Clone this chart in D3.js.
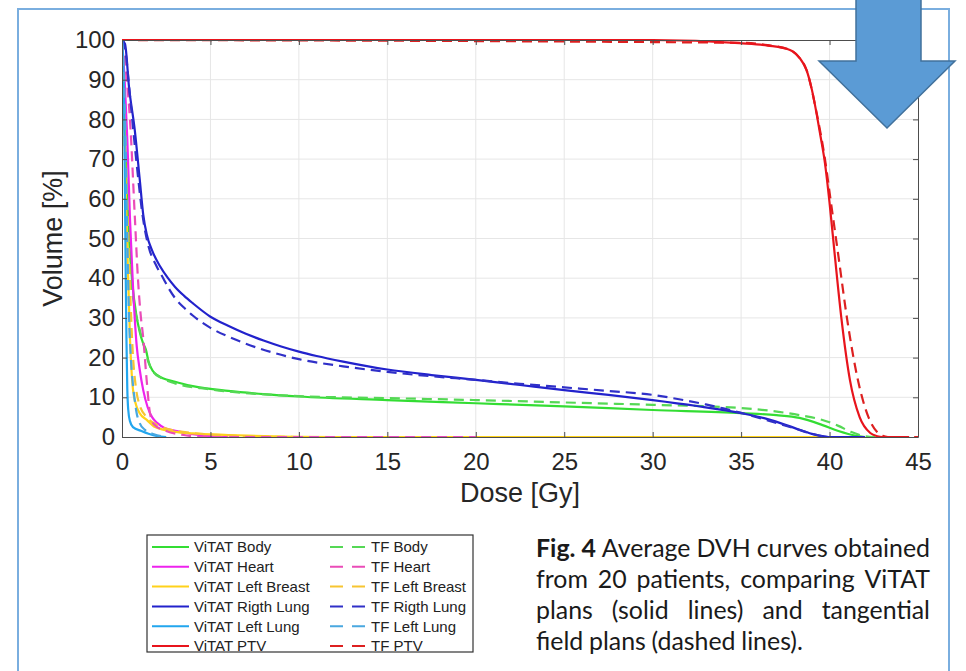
<!DOCTYPE html>
<html><head><meta charset="utf-8">
<script src="https://cdn.jsdelivr.net/npm/d3@7"></script>
<style>body{margin:0;background:#fff}svg{display:block}</style>
</head><body><svg id="c" width="966" height="671"></svg>
<script>
// ---------- DATA (dose [Gy], volume [%]) ----------
const doseTicks = [0,5,10,15,20,25,30,35,40,45];
const volumeTicks = [0,10,20,30,40,50,60,70,80,90,100];

const vitatBody = [[0,100],[0.1,85],[0.25,65],[0.4,50],[0.6,38],[0.8,31],[1.0,26.5],[1.2,23.5],[1.35,22],[1.5,19],[1.75,16.6],[2.0,15.6],[3,13.9],[4,12.8],[6,11.6],[8,10.8],[10,10.2],[15,9.3],[20,8.5],[25,7.7],[30,6.8],[35,6.0],[37,5.5],[38.3,4.8],[39.6,3],[40.5,1.5],[41.5,0.3],[42,0]];
const tfBody = [[0,100],[0.1,82],[0.25,60],[0.45,42],[0.7,33],[1.0,27],[1.3,22],[1.5,18.8],[1.8,16.2],[2.2,14.9],[3,13.5],[5,12],[10,10.3],[15,9.8],[20,9.3],[25,8.7],[30,8.1],[35,7.3],[38.3,5.5],[39.6,4.3],[40.5,2.8],[41.2,1.3],[42,0.2],[42.5,0],[44,0]];
const vitatHeart = [[0,100],[0.15,90],[0.3,75],[0.45,55],[0.62,38],[0.83,23],[1.0,17],[1.2,11.8],[1.45,7.5],[1.7,5],[2.0,3.5],[2.4,2.3],[3.1,1.5],[4,0.7],[5,0.2],[6,0]];
const tfHeart = [[0,100],[0.2,93],[0.45,80],[0.73,55],[0.9,40],[1.05,31],[1.2,25],[1.4,14],[1.58,6],[1.8,3.2],[2.5,1.5],[3.5,0.5],[4.5,0],[20,0]];
const vitatBreast = [[0,100],[0.1,85],[0.2,65],[0.3,48],[0.45,25],[0.62,12],[0.8,8],[1.0,6],[1.4,4.3],[1.87,2.5],[3,1.3],[4,0.9],[6,0.5],[8,0.2],[10,0.05],[12,0],[40,0]];
const tfBreast = [[0,100],[0.15,82],[0.3,58],[0.45,38],[0.6,22],[0.8,12],[1.0,8],[1.4,5],[2,3],[3,1.6],[4,1],[6,0.4],[8,0.1],[10,0]];
const vitatRightLung = [[0,100],[0.17,99],[0.4,88],[0.73,77],[1.0,65],[1.2,56],[1.4,51],[1.7,47],[2.15,43],[2.6,40],[3,37.8],[3.5,35.6],[4,33.7],[5,30.3],[6,28],[7,26],[8,24.3],[9,22.8],[10,21.5],[11,20.4],[12.5,19],[15,17],[17.5,15.6],[20,14.4],[22.5,13.1],[25,11.8],[27.5,10.6],[30,9.3],[32.5,7.8],[35,6],[36.5,4.5],[38,2.3],[39,0.8],[39.8,0.1],[40,0],[42,0]];
const tfRightLung = [[0,100],[0.2,97],[0.45,86],[0.8,70],[1.19,55],[1.5,48],[1.9,43.5],[2.33,40],[2.7,37],[3,35],[3.5,32.6],[4,30.6],[5,27.5],[6,25.3],[7,23.5],[8.5,21.3],[10,19.6],[12.5,17.8],[15,16.4],[17.5,15.3],[20,14.4],[22.5,13.4],[25,12.5],[27.5,11.6],[30,10.6],[31,9.9],[32,9.1],[33,8.2],[34,7.2],[35,6.1],[36.5,4.2],[38,2.2],[39,0.8],[39.8,0]];
const vitatLeftLung = [[0,100],[0.1,90],[0.15,70],[0.2,45],[0.25,25],[0.3,12],[0.35,7],[0.45,4],[0.62,2.5],[1.1,1.5],[1.5,0.8],[2,0.2],[2.5,0]];
const tfLeftLung = [[0,100],[0.1,92],[0.2,75],[0.3,50],[0.4,30],[0.5,20],[0.6,14],[0.7,10],[0.83,6],[1.0,3.5],[1.3,1.8],[1.8,0.7],[2.5,0]];
const vitatPTV = [[0,100],[30,100],[34.9,99.2],[36.5,98.6],[37.76,97.5],[38.3,95.5],[38.7,92.4],[39.0,87.5],[39.27,81.4],[39.5,75.5],[39.74,69],[40.0,59],[40.3,45.6],[40.68,29.5],[41.15,14.4],[41.7,5],[42.3,1],[42.7,0.2],[43,0],[44.5,0]];
const tfPTV = [[0,100],[34.9,99.3],[36.5,98.7],[37.7,97.6],[38.3,95.5],[38.7,92.4],[39.27,81.6],[39.74,70],[40.05,60],[40.5,45.6],[41.0,29.5],[41.6,14.4],[42.2,5],[42.7,1.2],[43,0.3],[43.3,0],[45,0]];

const seriesNames = ["ViTAT Body","TF Body","ViTAT Heart","TF Heart","ViTAT Left Breast","TF Left Breast","ViTAT Rigth Lung","TF Rigth Lung","ViTAT Left Lung","TF Left Lung","ViTAT PTV","TF PTV"];
const seriesData = [vitatBody,tfBody,vitatHeart,tfHeart,vitatBreast,tfBreast,vitatRightLung,tfRightLung,vitatLeftLung,tfLeftLung,vitatPTV,tfPTV];
const seriesColors = ["#33dd33","#55d855","#ee22ee","#ea4cb8","#ffd21a","#f7c531","#2222cc","#3030c8","#22a6ee","#4aa8e0","#e8141c","#dd2020"];
const seriesDashed = [false,true,false,true,false,true,false,true,false,true,false,true];

const captionLines = ["Fig. 4 Average DVH curves obtained","from 20 patients, comparing ViTAT","plans (solid lines) and tangential","field plans (dashed lines)."];
const captionBoldWords = 2;

// ---------- DRAW ----------
const svg = d3.select('#c');
const x = d3.scaleLinear().domain([0,45]).range([122,918]);
const y = d3.scaleLinear().domain([0,100]).range([437,40]);
const axisFont = '"Liberation Sans", Arial, Helvetica, sans-serif';

// outer frame
svg.append('rect').attr('x',18).attr('y',9).attr('width',931).attr('height',720)
  .attr('fill','none').attr('stroke','#7aaedf').attr('stroke-width',2);

// grid
const grid = svg.append('g');
grid.selectAll('.gx').data(doseTicks.slice(1,-1)).join('line')
  .attr('x1',d=>x(d)).attr('x2',d=>x(d)).attr('y1',y(0)).attr('y2',y(100))
  .attr('stroke','#e6e6e6').attr('stroke-width',1);
grid.selectAll('.gy').data(volumeTicks.slice(1,-1)).join('line')
  .attr('y1',d=>y(d)).attr('y2',d=>y(d)).attr('x1',x(0)).attr('x2',x(45))
  .attr('stroke','#e6e6e6').attr('stroke-width',1);

// clip
svg.append('clipPath').attr('id','clip').append('rect')
  .attr('x',x(0)).attr('y',y(100)-2).attr('width',x(45)-x(0)).attr('height',y(0)-y(100)+3);

const line = d3.line().x(d=>x(d[0])).y(d=>y(d[1])).curve(d3.curveMonotoneX);
const drawOrder = [0,1,2,4,5,3,6,7,8,9,11,10];
const lines = svg.append('g').attr('clip-path','url(#clip)');
drawOrder.forEach(i=>{
  lines.append('path').datum(seriesData[i]).attr('d',line)
    .attr('fill','none').attr('stroke',seriesColors[i]).attr('stroke-width',2.2)
    .attr('stroke-linejoin','round')
    .attr('stroke-dasharray',seriesDashed[i]?'10,6':null);
});

// axes (ticks inward, MATLAB box)
function styleAxis(g){
  g.selectAll('path.domain').attr('stroke','#4d4d4d').attr('stroke-width',1);
  g.selectAll('.tick line').attr('stroke','#4d4d4d');
  g.selectAll('text').attr('font-family',axisFont).attr('font-size',24).attr('fill','#262626');
}
svg.append('g').attr('transform',`translate(0,${y(0)})`)
  .call(d3.axisBottom(x).tickValues(doseTicks).tickSizeInner(-5).tickSizeOuter(0).tickPadding(16)).call(styleAxis);
svg.append('g').attr('transform',`translate(0,${y(100)})`)
  .call(d3.axisTop(x).tickValues(doseTicks).tickSizeInner(-5).tickSizeOuter(0).tickFormat('')).call(styleAxis);
svg.append('g').attr('transform',`translate(${x(0)},0)`)
  .call(d3.axisLeft(y).tickValues(volumeTicks).tickSizeInner(-5).tickSizeOuter(0).tickPadding(7)).call(styleAxis);
svg.append('g').attr('transform',`translate(${x(45)},0)`)
  .call(d3.axisRight(y).tickValues(volumeTicks).tickSizeInner(-5).tickSizeOuter(0).tickFormat('')).call(styleAxis);

// axis titles
svg.append('text').attr('x',(x(0)+x(45))/2).attr('y',502).attr('text-anchor','middle')
  .attr('font-family',axisFont).attr('font-size',27).attr('fill','#262626').text('Dose [Gy]');
svg.append('text').attr('transform',`translate(62,${(y(0)+y(100))/2}) rotate(-90)`).attr('text-anchor','middle')
  .attr('font-family',axisFont).attr('font-size',27).attr('fill','#262626').text('Volume [%]');

// legend
const lg = svg.append('g');
lg.append('rect').attr('x',147).attr('y',535).attr('width',326).attr('height',117)
  .attr('fill','#fff').attr('stroke','#333').attr('stroke-width',1.2);
seriesNames.forEach((name,i)=>{
  const row = Math.floor(i/2), col = i%2;
  const cy = 547 + row*19.8;
  const lx = col===0 ? 152 : 330;
  lg.append('line').attr('x1',lx).attr('x2',lx+37).attr('y1',cy).attr('y2',cy)
    .attr('stroke',seriesColors[i]).attr('stroke-width',2)
    .attr('stroke-dasharray',seriesDashed[i]?'13,9':null);
  lg.append('text').attr('x',lx+(col===0?42:41)).attr('y',cy).attr('dy','0.36em')
    .attr('font-family',axisFont).attr('font-size',15).attr('fill','#222').text(name);
});

// caption (justified)
const capFont = 'Lato, "Open Sans", sans-serif';
const capLeft = 536, capRight = 930;
const cap = svg.append('g').attr('fill','#1a1a1a').attr('font-family',capFont);
const probe = cap.append('text').attr('font-size',24).text(captionLines[3]);
const w0 = probe.node().getComputedTextLength();
probe.remove();
const capSize = 24*269/w0;
captionLines.forEach((ln,li)=>{
  const words = ln.split(' ');
  const yb = 557 + li*31;
  const nodes = words.map((w,wi)=> cap.append('text').attr('y',yb).attr('font-size',capSize)
      .attr('font-weight',(li===0 && wi<captionBoldWords)?'bold':'normal').text(w));
  const widths = nodes.map(n=>n.node().getComputedTextLength());
  const total = d3.sum(widths);
  const last = li===captionLines.length-1;
  const gap = last ? capSize*0.23 : (capRight-capLeft-total)/(words.length-1);
  let cx = capLeft;
  nodes.forEach((n,k)=>{ n.attr('x',cx); cx += widths[k]+gap; });
});

// arrow
const arrowPts = [[856,-2],[921,-2],[921,61],[955,61],[887,128],[819,61],[856,61]];
svg.append('polygon').attr('points',arrowPts.map(p=>p.join(',')).join(' '))
  .attr('fill','#5b9bd5').attr('stroke','#41719c').attr('stroke-width',1.5);
</script>
</body></html>
